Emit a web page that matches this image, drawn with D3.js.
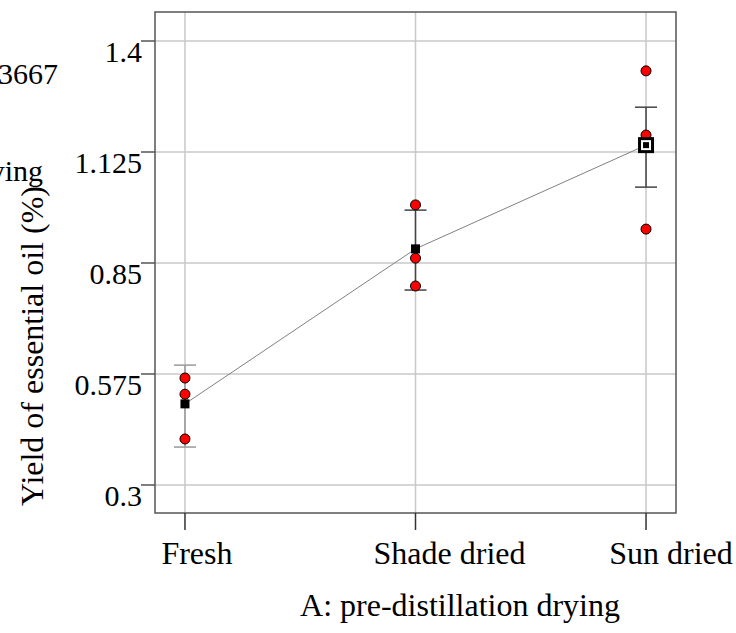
<!DOCTYPE html>
<html>
<head>
<meta charset="utf-8">
<script src="https://cdn.jsdelivr.net/npm/d3@7"></script>
<style>
  body { margin: 0; background: #fff; }
  text { font-family: "Liberation Serif", "Times New Roman", serif; fill: #000; }
</style>
</head>
<body>
<div id="plot"></div>
<script>
// categories and observed values
const categories = ["Fresh", "Shade dried", "Sun dried"];
const runs = [
  [0.565, 0.525, 0.414],
  [0.994, 0.862, 0.793],
  [1.326, 1.167, 0.934]
];
const means = [0.501, 0.885, 1.142];
const ciLow = [0.394, 0.783, 1.038];
const ciHigh = [0.597, 0.981, 1.236];
const yTicks = [0.3, 0.575, 0.85, 1.125, 1.4];

const width = 736, height = 633;
const box = { left: 155, right: 676, top: 12, bottom: 513 };

const svg = d3.select("div#plot")
  .append("svg")
    .attr("width", width)
    .attr("height", height);

const x = d3.scalePoint()
  .domain(categories)
  .range([box.left, box.right])
  .padding(0.13);

const y = d3.scaleLinear()
  .domain([0.3, 1.4])
  .range([485, 41]);

// grid
svg.selectAll(".hgrid")
  .data(yTicks)
  .join("line")
    .attr("x1", box.left).attr("x2", box.right)
    .attr("y1", d => y(d)).attr("y2", d => y(d))
    .attr("stroke", "#c8c8c8").attr("stroke-width", 1.5);

svg.selectAll(".vgrid")
  .data(categories)
  .join("line")
    .attr("x1", d => x(d)).attr("x2", d => x(d))
    .attr("y1", box.top).attr("y2", box.bottom)
    .attr("stroke", "#c8c8c8").attr("stroke-width", 1.5);

// frame
svg.append("rect")
  .attr("x", box.left).attr("y", box.top)
  .attr("width", box.right - box.left).attr("height", box.bottom - box.top)
  .attr("fill", "none").attr("stroke", "#555").attr("stroke-width", 1.5);

// y axis ticks + labels
svg.selectAll(".ytick")
  .data(yTicks)
  .join("line")
    .attr("x1", box.left - 14).attr("x2", box.left)
    .attr("y1", d => y(d)).attr("y2", d => y(d))
    .attr("stroke", "#555").attr("stroke-width", 1.5);

svg.selectAll(".ylab")
  .data(yTicks)
  .join("text")
    .attr("x", box.left - 13)
    .attr("y", d => y(d) + 21)
    .attr("text-anchor", "end")
    .style("font-size", "30px")
    .text(d => d);

// x axis ticks + labels
const labelDx = [12, 34, 25];
svg.selectAll(".xtick")
  .data(categories)
  .join("line")
    .attr("x1", d => x(d)).attr("x2", d => x(d))
    .attr("y1", box.bottom).attr("y2", box.bottom + 17)
    .attr("stroke", "#333").attr("stroke-width", 1.5);

svg.selectAll(".xlab")
  .data(categories)
  .join("text")
    .attr("x", (d, i) => x(d) + labelDx[i])
    .attr("y", 564)
    .attr("text-anchor", "middle")
    .style("font-size", "32px")
    .text(d => d);

// axis titles
svg.append("text")
  .attr("x", 460).attr("y", 616)
  .attr("text-anchor", "middle")
  .style("font-size", "32px")
  .text("A: pre-distillation drying");

svg.append("text")
  .attr("transform", "translate(43,346) rotate(-90)")
  .attr("text-anchor", "middle")
  .style("font-size", "32px")
  .text("Yield of essential oil (%)");

// text of the left panel, cut by the picture edge
svg.append("text")
  .attr("x", 58).attr("y", 84)
  .attr("text-anchor", "end")
  .style("font-size", "30px")
  .text("0.3667");

svg.append("text")
  .attr("x", 43).attr("y", 181)
  .attr("text-anchor", "end")
  .style("font-size", "30px")
  .text("drying");

// line through the means
svg.append("path")
  .datum(means)
  .attr("d", d3.line().x((d, i) => x(categories[i])).y(d => y(d)))
  .attr("fill", "none")
  .attr("stroke", "#808080")
  .attr("stroke-width", 1);

// CI bars
const barColor = ["#999", "#444", "#444"];
categories.forEach(function(c, i) {
  const cx = x(c);
  svg.append("line")
    .attr("x1", cx).attr("x2", cx)
    .attr("y1", y(ciHigh[i])).attr("y2", y(ciLow[i]))
    .attr("stroke", barColor[i]).attr("stroke-width", 1.5);
  [ciLow[i], ciHigh[i]].forEach(function(v) {
    svg.append("line")
      .attr("x1", cx - 11).attr("x2", cx + 11)
      .attr("y1", y(v)).attr("y2", y(v))
      .attr("stroke", barColor[i]).attr("stroke-width", 1.5);
  });
});

// design points
const pts = [];
runs.forEach((r, i) => r.forEach(v => pts.push({ c: categories[i], v: v })));
svg.selectAll(".pt")
  .data(pts)
  .join("circle")
    .attr("cx", d => x(d.c))
    .attr("cy", d => y(d.v))
    .attr("r", 5)
    .attr("fill", "#ff0000")
    .attr("stroke", "#000")
    .attr("stroke-width", 1);

// mean markers
svg.selectAll(".mean")
  .data(means.slice(0, 2))
  .join("rect")
    .attr("x", (d, i) => x(categories[i]) - 4.5)
    .attr("y", d => y(d) - 4.5)
    .attr("width", 9).attr("height", 9)
    .attr("fill", "#000");

// current setting marker (last category)
const sx = x(categories[2]), sy = y(means[2]);
svg.append("rect")
  .attr("x", sx - 6.5).attr("y", sy - 6.5)
  .attr("width", 13).attr("height", 13)
  .attr("fill", "#fff").attr("stroke", "#000").attr("stroke-width", 3);
svg.append("rect")
  .attr("x", sx - 3).attr("y", sy - 3)
  .attr("width", 6).attr("height", 6)
  .attr("fill", "#000");
</script>
</body>
</html>
